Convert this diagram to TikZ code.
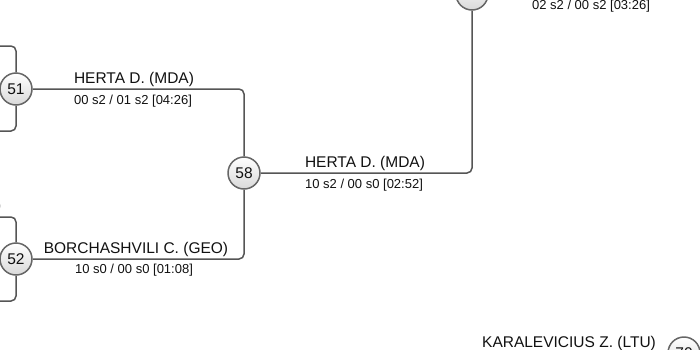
\documentclass[tikz,border=0pt]{standalone}
\usepackage{fontspec}
\setmainfont{Liberation Sans}
\usetikzlibrary{shadings}
\definecolor{linegray}{HTML}{555555}
\definecolor{circgray}{HTML}{666666}
\definecolor{txt}{HTML}{111111}
\tikzset{
  matchnode/.style={circle, minimum size=32pt, inner sep=0pt, draw=circgray, line width=1.5pt,
    top color=white, bottom color=black!15, text=txt, font=\fontsize{15.5}{16}\selectfont},
  conn/.style={draw=linegray, line width=1.5pt, rounded corners=5pt},
  namelbl/.style={anchor=base, inner sep=0pt, text=txt, font=\fontsize{15.5}{16}\selectfont},
  scorelbl/.style={anchor=base, inner sep=0pt, text=txt, font=\fontsize{13}{14}\selectfont},
}
\begin{document}
\begin{tikzpicture}[x=1pt,y=-1pt]
\useasboundingbox (0,0) rectangle (700,349);
\clip (0,0) rectangle (700,349);
% nodes
\node[matchnode] (m51) at (16,89) {51};
\node[matchnode] (m52) at (16,259) {52};
\node[matchnode] (m58) at (244,173) {58};
\node[matchnode] (mtop) at (472,-6) {};
\node[matchnode] (m70) at (684,353) {70};
% bracket end points
\coordinate (a1) at (-10,46);
\coordinate (a2) at (-10,131);
\coordinate (b1) at (-10,217);
\coordinate (b2) at (-10,301);
\coordinate (topend) at (710,-6);
\coordinate (endseventy) at (470,353);
% connectors
\draw[conn] (a1) -| (m51.north);
\draw[conn] (a2) -| (m51.south);
\draw[conn] (b1) -| (m52.north);
\draw[conn] (b2) -| (m52.south);
\draw[conn] (m51.east) -| (m58.north);
\draw[conn] (m52.east) -| (m58.south);
\draw[conn] (m58.east) -| (mtop.south);
\draw[conn] (mtop.east) -- (topend);
\draw[conn] (m70.west) -- (endseventy);
% labels
\node[namelbl] (l51) at (134,83) {HERTA D. (MDA)};
\node[scorelbl] (s51) at (133,104) {00 s2 / 01 s2 [04:26]};
\node[namelbl] (l52) at (136,253) {BORCHASHVILI C. (GEO)};
\node[scorelbl] (s52) at (134,273) {10 s0 / 00 s0 [01:08]};
\node[namelbl] (l58) at (365,167) {HERTA D. (MDA)};
\node[scorelbl] (s58) at (364,188) {10 s2 / 00 s0 [02:52]};
\node[scorelbl] (stop) at (591,9) {02 s2 / 00 s2 [03:26]};
\node[namelbl] (l70) at (569,347) {KARALEVICIUS Z. (LTU)};
\node[namelbl, anchor=base east] (cut) at (1.5,210) {)};
\end{tikzpicture}
\end{document}
